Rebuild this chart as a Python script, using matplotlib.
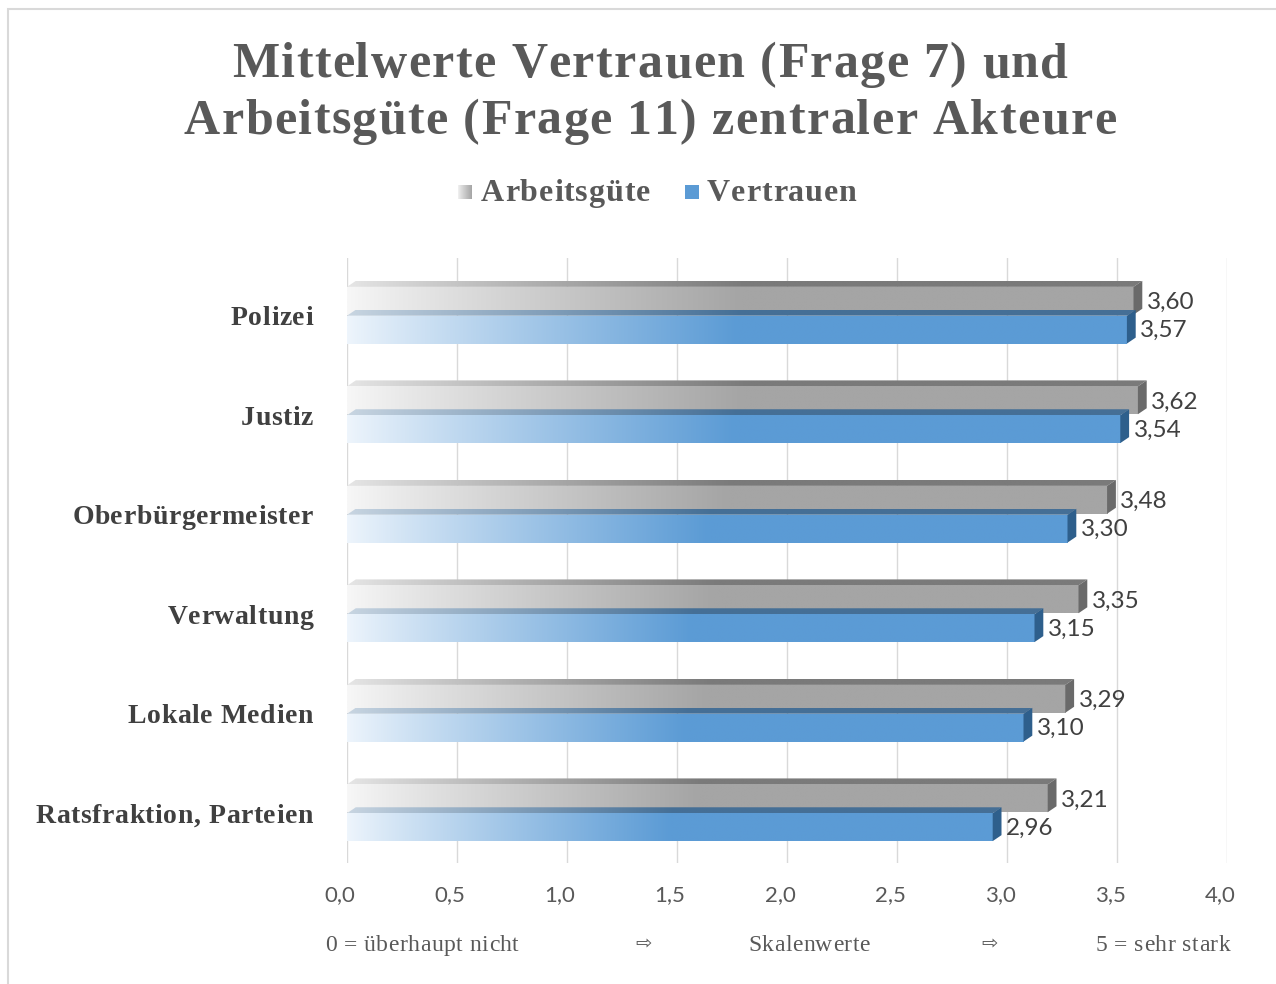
import numpy as np
import matplotlib
matplotlib.use("Agg")
import matplotlib.pyplot as plt
from matplotlib.patches import Polygon, Rectangle
from matplotlib.colors import to_rgb
from matplotlib.font_manager import FontProperties, findfont, get_font

try:
    from matplotlib.ft2font import LoadFlags
    NOH = LoadFlags.NO_HINTING
except Exception:  # older matplotlib
    from matplotlib.ft2font import LOAD_NO_HINTING as NOH

# ---- data ----
categories = ["Polizei", "Justiz", "Oberbürgermeister", "Verwaltung",
              "Lokale Medien", "Ratsfraktion, Parteien"]
arbeitsguete = [3.60, 3.62, 3.48, 3.35, 3.29, 3.21]
vertrauen = [3.57, 3.54, 3.30, 3.15, 3.10, 2.96]
xticks = [0.0, 0.5, 1.0, 1.5, 2.0, 2.5, 3.0, 3.5, 4.0]
xtick_labels = ["0,0", "0,5", "1,0", "1,5", "2,0", "2,5", "3,0", "3,5", "4,0"]
series_names = ["Arbeitsgüte", "Vertrauen"]
title_lines = ["Mittelwerte Vertrauen (Frage 7) und",
               "Arbeitsgüte (Frage 11) zentraler Akteure"]
scale_texts = ["0 = überhaupt nicht", "⇨", "Skalenwerte", "⇨", "5 = sehr stark"]

W, H = 1276, 984
DPI = 100
fig = plt.figure(figsize=(W / DPI, H / DPI), dpi=DPI)
fig.patch.set_facecolor("white")

def fx(px):
    return px / W

def fy(py):
    return 1 - py / H

serif = "Liberation Serif"
sans = "Lato"

def tracked(x_px, y_px, s, size, family, color, track, weight="normal",
            ha="left", va="baseline"):
    """Draw text char by char with extra letter spacing (pixels)."""
    prop = FontProperties(family=family, weight=weight, size=size)
    font = get_font(findfont(prop))
    font.set_size(size, DPI)
    advs = [font.load_char(ord(c), flags=NOH).linearHoriAdvance / 65536 for c in s]
    total = sum(advs) + track * (len(s) - 1)
    if ha == "center":
        x = x_px - total / 2
    elif ha == "right":
        x = x_px - total
    else:
        x = x_px
    for c, a in zip(s, advs):
        if c != " ":
            fig.text(fx(x), fy(y_px), c, fontproperties=prop, color=color,
                     ha="left", va=va)
        x += a + track

# chart border
fig.add_artist(Rectangle((fx(8), fy(990)), fx(1300) - fx(8), fy(9) - fy(990),
                         transform=fig.transFigure, fill=False,
                         edgecolor="#D9D9D9", lw=1.5))

ax_top, ax_bot = 258, 863
ax = fig.add_axes([fx(347), fy(ax_bot), fx(1227) - fx(347), fy(ax_top) - fy(ax_bot)])
ax.set_facecolor("none")
for s in ax.spines.values():
    s.set_visible(False)

def grad_img(c_left, c_right, stop, n=300):
    t = np.linspace(0, 1, n)
    f = np.clip(t / stop, 0, 1) ** 0.9
    a = np.array(to_rgb(c_left))
    b = np.array(to_rgb(c_right))
    cols = a[None, :] + (b - a)[None, :] * f[:, None]
    return cols[None, :, :]

styles = {
    "gray": dict(front=("#F7F7F7", "#A5A5A5"), top=("#E6E6E6", "#7A7A7A"),
                 side="#6A6A6A"),
    "blue": dict(front=("#EEF5FC", "#5B9BD5"), top=("#C9D6E2", "#456F96"),
                 side="#2E5F8C"),
}

dx = 0.04   # depth in x (data units)
dy = 0.06   # depth in y (category units)
bh = 0.28   # bar front height

def draw_bar(v, y_top_front, st, z):
    xe = v - 0.025
    yb = y_top_front + bh
    ax.imshow(grad_img(*st["front"], stop=0.5), extent=(0, xe, yb, y_top_front),
              aspect="auto", interpolation="bilinear", zorder=z)
    poly = Polygon([(0, y_top_front), (xe, y_top_front), (xe + dx, y_top_front - dy),
                    (dx, y_top_front - dy)], closed=True, facecolor="none",
                   edgecolor="none", transform=ax.transData)
    ax.add_patch(poly)
    im = ax.imshow(grad_img(*st["top"], stop=0.5),
                   extent=(0, xe + dx, y_top_front, y_top_front - dy),
                   aspect="auto", interpolation="bilinear", zorder=z)
    im.set_clip_path(poly)
    ax.add_patch(Polygon([(xe, y_top_front), (xe, yb), (xe + dx, yb - dy),
                          (xe + dx, y_top_front - dy)], closed=True,
                         facecolor=st["side"], edgecolor="none", zorder=z))

for i, (a, v) in enumerate(zip(arbeitsguete, vertrauen)):
    draw_bar(a, i - 0.29, styles["gray"], 3)
    draw_bar(v, i + 0.0, styles["blue"], 4)
    ax.text(a + 0.035, i - 0.13, f"{a:.2f}".replace(".", ","), ha="left",
            va="center", fontsize=17.5, color="#404040", family=sans, zorder=6)
    ax.text(v + 0.035, i + 0.15, f"{v:.2f}".replace(".", ","), ha="left",
            va="center", fontsize=17.5, color="#404040", family=sans, zorder=6)

ax.set_xlim(0, 4.0)
ax.set_ylim(5.5, -0.58)
ax.set_xticks(xticks)
ax.set_xticklabels([])
ax.set_yticks(range(len(categories)))
ax.set_yticklabels([])
ax.tick_params(axis="both", length=0)
ax.grid(axis="x", color="#D9D9D9", lw=1, zorder=0)
ax.set_axisbelow(True)

# x tick labels (slightly left of the gridlines, as in the original)
for xv, lab in zip(xticks, xtick_labels):
    xdisp = ax.transData.transform((xv, 0))[0]
    fig.text(fx(xdisp - 7), fy(895), lab, ha="center", va="center",
             family=sans, fontsize=16, color="#595959")

# category labels (tracked serif bold)
for i, cat in enumerate(categories):
    ydisp = ax.transData.transform((0, i))[1]
    ypx = H - ydisp
    tracked(313, ypx + 9.5, cat, 20, serif, "#404040", 0.6, weight="bold",
            ha="right")

# title
tracked(650, 77, title_lines[0], 36, serif, "#595959", 1.4, weight="bold",
        ha="center")
tracked(650, 134, title_lines[1], 36, serif, "#595959", 1.4, weight="bold",
        ha="center")

# legend
def legend_swatch(x0, c_left, c_right):
    lax = fig.add_axes([fx(x0), fy(199), fx(14), fy(185) - fy(199)])
    lax.imshow(grad_img(c_left, c_right, stop=1.0), aspect="auto",
               interpolation="bilinear", extent=(0, 1, 0, 1))
    lax.set_axis_off()

legend_swatch(458, "#F2F2F2", "#A5A5A5")
legend_swatch(685, "#5B9BD5", "#5B9BD5")
tracked(481, 201, series_names[0], 23, serif, "#595959", 0.9, weight="bold")
tracked(707, 201, series_names[1], 23, serif, "#595959", 0.9, weight="bold")

# bottom scale annotation
tracked(325, 951, scale_texts[0], 17, serif, "#595959", 0.5)
fig.text(fx(644), fy(944), scale_texts[1], ha="center", va="center",
         family="DejaVu Sans", fontsize=14, color="#595959")
tracked(809, 951, scale_texts[2], 17, serif, "#595959", 0.5, ha="center")
fig.text(fx(990), fy(944), scale_texts[3], ha="center", va="center",
         family="DejaVu Sans", fontsize=14, color="#595959")
tracked(1230, 951, scale_texts[4], 17, serif, "#595959", 0.5, ha="right")

fig.savefig("out.png", dpi=DPI)
